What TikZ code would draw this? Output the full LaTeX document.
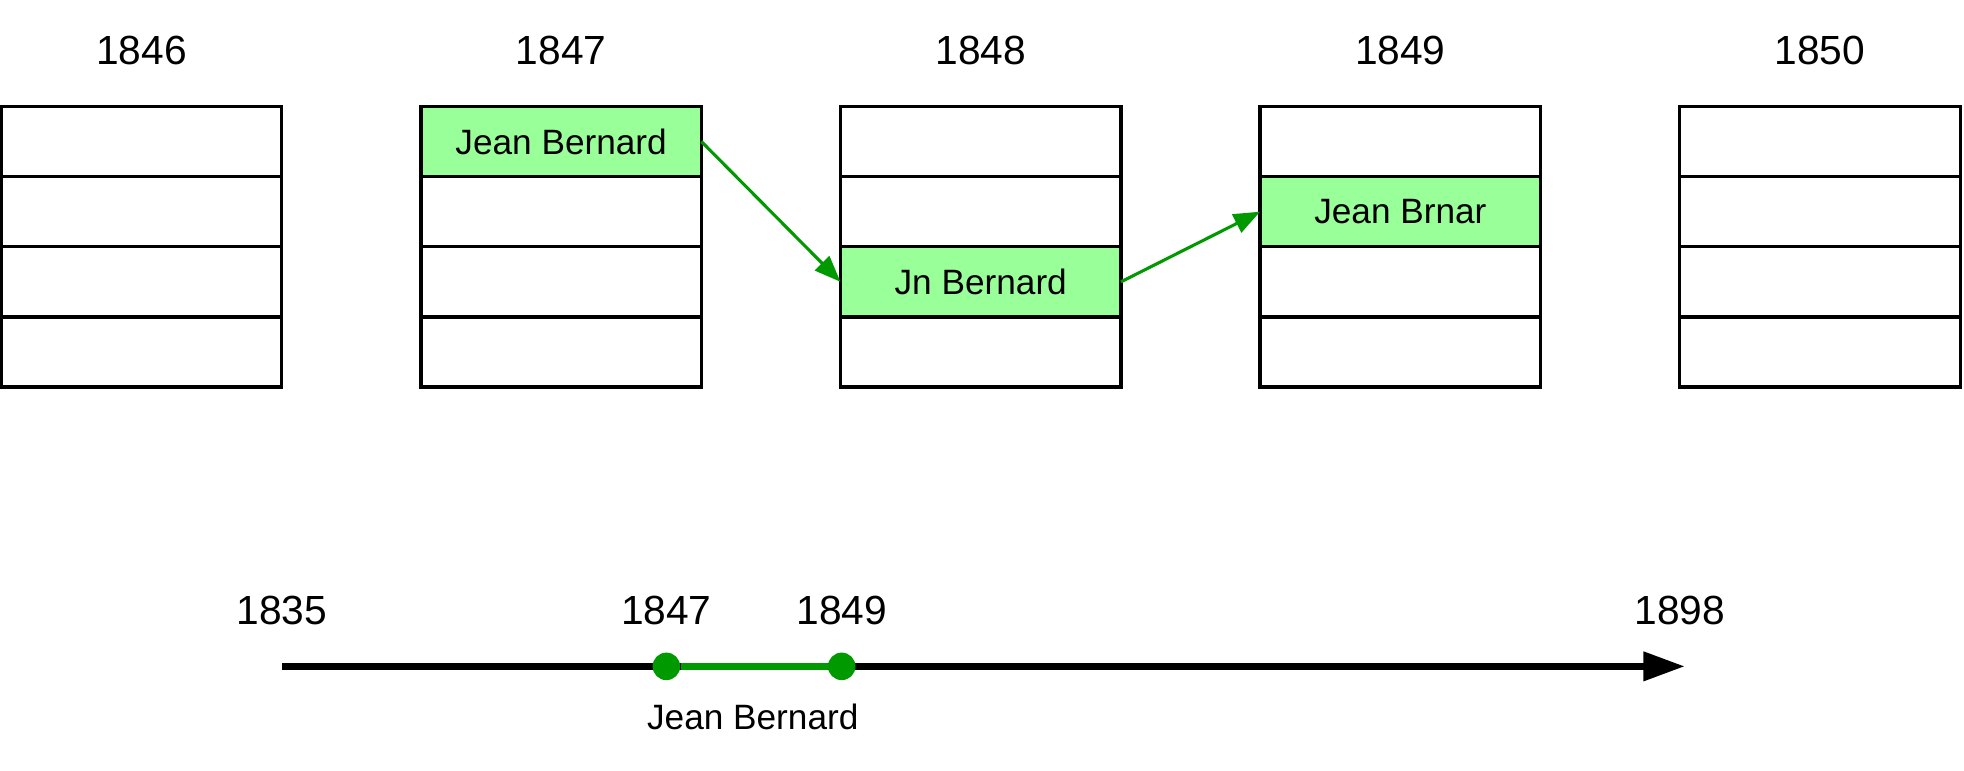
\documentclass[tikz,border=0pt]{standalone}
\usepackage{fontspec}
\setmainfont{Liberation Sans}
\usetikzlibrary{positioning,arrows.meta}
\definecolor{hitgreen}{RGB}{153,255,153}
\definecolor{darkgreen}{RGB}{0,153,0}

\tikzset{
	cell/.style={draw=black,line width=1.5pt,minimum width=4.48cm,minimum height=1.12cm,inner sep=0pt,outer sep=0pt,font=\fontsize{16}{18}\selectfont},
	hit/.style={cell,fill=hitgreen},
	yearlabel/.style={font=\fontsize{18.5}{20}\selectfont},
	link/.style={draw=darkgreen,line width=1.4pt,arrows={-Triangle[length=0.42cm,width=0.32cm]}},
	dot/.style={circle,fill=darkgreen,minimum size=0.44cm,inner sep=0pt}
}

\begin{document}
\begin{tikzpicture}[x=0.02cm,y=-0.02cm]
	\useasboundingbox (0,0) rectangle (1568,615);
	
	% year columns
	\foreach \yr [count=\i from 0] in {1846,...,1850} {
		\node[yearlabel] (y\yr) at (113+335*\i, 40) {\yr};
		\foreach \r in {1,...,4}
			\node[cell] (c\yr-\r) at (113+335*\i, 57+56*\r) {};
	}
	
	% matched records
	\node[hit] (jb1847) at (c1847-1) {Jean Bernard};
	\node[hit] (jb1848) at (c1848-3) {Jn Bernard};
	\node[hit] (jb1849) at (c1849-2) {Jean Brnar};
	\draw[link] (jb1847.east) -- (jb1848.west);
	\draw[link] (jb1848.east) -- (jb1849.west);
	
	% timeline
	\coordinate (t0) at (225,532);
	\coordinate (t1) at (1345,532);
	\draw[line width=3pt,arrows={-Triangle[length=0.66cm,width=0.45cm]}] (t0) -- (t1);
	\node[dot] (d1847) at (532,532) {};
	\node[dot] (d1849) at (672,532) {};
	\draw[darkgreen,line width=3pt] (d1847) -- (d1849);
	\node[yearlabel] (l1835) at (225,487) {1835};
	\node[yearlabel] (l1847) at (532,487) {1847};
	\node[yearlabel] (l1849) at (672,487) {1849};
	\node[yearlabel] (l1898) at (1341,487) {1898};
	\node[font=\fontsize{16}{18}\selectfont] (who) at (601,572) {Jean Bernard};
\end{tikzpicture}
\end{document}
